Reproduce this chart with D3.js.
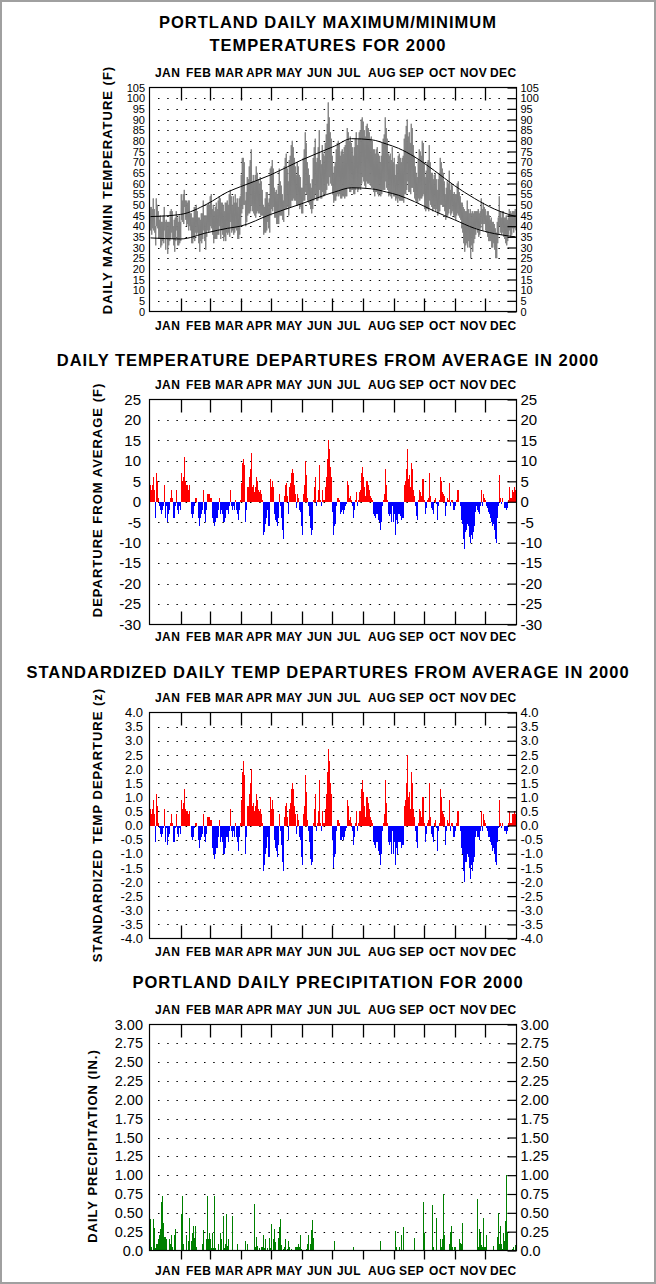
<!DOCTYPE html>
<html>
<head>
<meta charset="utf-8">
<script src="https://cdn.jsdelivr.net/npm/d3@7"></script>
<style>
body { margin: 0; background: #ffffff; }
</style>
</head>
<body>
<script>
var months = ["JAN", "FEB", "MAR", "APR", "MAY", "JUN", "JUL", "AUG", "SEP", "OCT", "NOV", "DEC"];
var monthDays = [31, 29, 31, 30, 31, 30, 31, 31, 30, 31, 30, 31];

// daily max / min temperature (F), one line per month
var maxTemp = [
  49,49,48,53,48,40,53,50,47,43,45,42,42,45,49,42,43,42,42,42,47,48,47,40,43,44,47,44,42,45,42,
  55,52,55,57,52,52,51,52,52,46,46,44,44,49,49,50,47,44,44,43,46,46,52,45,45,45,50,51,50,
  54,55,48,50,47,49,51,48,52,54,53,51,51,50,47,51,51,52,50,55,57,54,50,54,51,55,51,53,49,53,54,
  64,72,72,70,52,56,63,62,68,71,76,61,64,61,64,68,65,62,60,63,61,57,50,49,53,56,56,51,53,67,
  68,71,67,58,56,57,55,59,67,61,59,55,52,68,72,74,67,61,71,73,78,80,77,72,68,64,70,68,64,63,58,
  58,72,76,84,79,70,67,64,60,58,62,72,77,81,70,72,77,85,71,69,78,74,73,79,83,88,98,91,84,81,
  73,65,68,70,76,79,80,79,73,75,76,74,77,78,80,86,84,80,82,79,77,73,77,81,84,78,81,84,85,90,91,
  89,85,82,87,88,86,84,81,82,80,76,76,74,76,77,74,73,70,73,79,81,83,91,86,81,74,73,74,71,77,70,
  72,64,69,69,73,74,72,70,72,73,81,83,87,90,82,84,79,88,86,78,73,68,65,63,71,76,75,73,80,79,
  70,63,66,70,71,78,70,65,65,62,64,65,62,57,62,65,72,70,67,65,61,55,58,61,60,66,57,60,59,55,56,
  55,55,60,61,56,54,51,51,49,48,47,47,52,48,46,48,46,47,46,47,47,47,47,48,46,47,53,48,51,49,
  48,45,47,47,45,43,44,42,42,41,39,37,42,44,54,47,44,47,47,44,44,45,43,44,48,47,46,47,47,47,48
];
var minTemp = [
  38,36,39,38,37,31,40,39,34,34,30,31,33,32,38,29,34,27,31,33,34,37,34,31,28,33,38,31,31,32,33,
  43,42,41,49,43,40,41,38,40,38,32,32,34,33,37,36,37,32,28,33,32,34,38,33,29,35,38,37,38,
  40,39,36,32,34,34,34,36,36,40,34,38,36,33,35,33,37,36,37,35,42,37,38,36,37,39,38,34,34,36,40,
  46,48,50,50,40,42,45,46,46,47,50,47,46,45,44,46,47,46,46,45,45,45,36,37,37,38,42,39,37,45,
  48,47,49,44,44,41,41,41,45,45,45,43,42,48,48,48,49,45,49,49,52,52,53,52,52,50,50,50,48,49,46,
  46,52,52,56,55,52,51,50,48,46,48,52,53,55,52,52,53,57,53,53,56,54,55,55,57,60,59,63,60,59,
  55,51,52,52,54,55,54,55,53,53,54,54,53,54,54,58,58,56,56,57,57,55,55,57,58,56,57,58,57,60,63,
  61,59,58,61,60,60,60,59,58,58,56,54,56,56,55,54,55,54,55,57,57,57,61,58,57,54,55,54,53,55,54,
  54,52,53,51,53,52,52,52,52,51,55,55,57,61,56,56,55,58,58,56,53,52,51,51,53,52,53,53,54,55,
  48,47,48,48,47,52,50,49,47,48,48,47,48,45,46,47,50,50,49,49,47,43,44,45,46,48,45,46,47,45,44,
  43,45,46,45,44,43,39,37,32,28,31,32,30,33,30,25,31,28,32,34,36,39,37,35,36,39,41,38,41,41,
  38,37,35,33,33,33,30,30,32,29,25,25,32,36,40,37,36,37,35,34,32,31,33,36,38,35,36,39,37,39,38
];

// normal max / min read at these days of the year
var normalDay = [1, 31, 58, 78, 91, 121, 152, 185, 202, 222, 237, 249, 265, 285, 305, 325, 345, 366];
var normalMax = [44.5, 45.5, 50.5, 56, 58.5, 64, 71, 77.5, 81, 80.5, 78.5, 76.5, 72.5, 66, 59, 53, 48, 44.5];
var normalMin = [34.5, 34, 37, 39, 40, 45.5, 50.5, 56, 58, 57.5, 56, 54.5, 51.5, 47, 43, 39, 36.5, 35];

// daily departure from average (F)
var departure = [
  4,3,4,6,3,-4,7,5,1,-1,-2,-3,-2,-1,4,-4,-1,-5,-3,-2,1,3,1,-4,-4,-1,3,-2,-3,-1,-2,
  7,5,6,11,5,4,4,3,4,0,-3,-4,-3,-1,1,1,0,-4,-6,-4,-3,-2,3,-3,-5,-2,2,2,2,
  1,1,-4,-5,-6,-5,-4,-4,-2,1,-3,-2,-3,-5,-5,-4,-2,-2,-3,-1,3,-1,-2,-1,-2,0.5,-2,-3,-4.5,-2,0.5,
  4.5,9.5,10.5,9,-5,-2,3.5,3.5,6,8,12,3.5,4,2.5,3.5,6,5,3,2.5,3,2,0.5,-8,-7.5,-5.5,-4,-2,-6,-6,5.5,
  3.5,5,3.5,-3,-4.5,-5,-6,-4,2,-1,-4,-7,-9,1.5,4,4.5,1.5,-3,3.5,4.5,7,8,7,4,2,-1.5,2,1,-2,-2.5,-6,
  -8,2,4,10,6.5,1,-1,-3.5,-6.5,-8,-7,0.5,3.5,6,-1,0.5,3,9,0.5,-1,3,0.5,0.5,3.5,6,10.5,15,13,8.5,6,
  -2.5,-8,-6,-5.5,-1,1,1,0.5,-3,-2.5,-2,-3,-2,-1,-0.5,5,4,1,1.5,0.5,-1,-4,-2,0.5,2.5,-1,0.5,2.5,3,7,8.5,
  6,3.5,1.5,5,5,4,3,1.5,1,0.5,-3,-3.5,-4,-3,-3,-4.5,-5,-7,-5,-1,0.5,2,8,4,0.5,-3,-3.5,-3,-5,-1,-5,
  -3,-8,-4.5,-5.5,-3,-3,-3.5,-4.5,-4,-4,4,5,8,13,5.5,6.5,3.5,9.5,8,3,1.5,-1,-3.5,-4.5,0.5,3,2.5,1.5,5.5,5.5,
  0.5,-3,-1.5,0.5,1,7,1.5,-1.5,-2,-3,0.5,1,-0.5,-4.5,-1,0.5,6,5,2.5,2,1.5,-3.5,-1,1,0.5,4.5,-1,0.5,0.5,-2,-2,
  -1,0.5,3,3,0,-1,-4.5,-5.5,-9,-11.5,-7.5,-7,-5.5,-6,-8.5,-10,-8,-9,-7.5,-6,-2.5,-1,-2,-2.5,-3,-1,3,-1,2,1,
  0.5,-1,-1.5,-2.5,-3,-4,-5,-6,-5.5,-7,-9,-10,-4,-1,6.5,1,-0.5,1,0,-1.5,-1.5,-2,-1.5,0.5,3.5,1,1,3,2.5,3.5,3
];

// standardized daily departure (z)
var zDeparture = [
  0.6,0.4,0.6,0.9,0.4,-0.6,1.1,0.7,0.1,-0.1,-0.3,-0.4,-0.3,-0.1,0.6,-0.6,-0.1,-0.7,-0.4,-0.3,0.1,0.4,0.1,-0.6,-0.6,-0.1,0.4,-0.3,-0.4,-0.1,-0.3,
  0.9,0.6,0.8,1.3,0.6,0.5,0.5,0.4,0.5,0,-0.4,-0.5,-0.4,-0.1,0.1,0.1,0,-0.5,-0.8,-0.5,-0.4,-0.3,0.4,-0.4,-0.6,-0.3,0.3,0.3,0.3,
  0.2,0.2,-0.8,-1.0,-1.2,-1.0,-0.8,-0.8,-0.4,0.2,-0.6,-0.4,-0.6,-1.0,-1.0,-0.8,-0.4,-0.4,-0.6,-0.2,0.6,-0.2,-0.4,-0.2,-0.4,0.1,-0.4,-0.6,-0.9,-0.4,0.1,
  0.9,1.9,2.3,1.8,-1.0,-0.4,0.7,0.7,1.1,1.5,2.0,0.7,0.8,0.5,0.7,1.1,0.9,0.6,0.5,0.6,0.4,0.1,-1.6,-1.4,-1.0,-0.8,-0.4,-1.1,-1.1,1.0,
  0.6,0.9,0.6,-0.5,-0.8,-0.9,-1.1,-0.7,0.4,-0.2,-0.7,-1.3,-1.6,0.3,0.7,0.8,0.3,-0.5,0.6,0.8,1.3,1.5,1.3,0.7,0.4,-0.3,0.4,0.2,-0.4,-0.5,-1.1,
  -1.4,0.4,0.7,1.8,1.2,0.2,-0.2,-0.6,-1.2,-1.4,-1.3,0.1,0.6,1.1,-0.2,0.1,0.5,1.6,0.1,-0.2,0.5,0.1,0.1,0.6,1.1,1.9,2.7,2.3,1.5,1.1,
  -0.5,-1.5,-1.1,-1.0,-0.2,0.2,0.2,0.1,-0.5,-0.5,-0.4,-0.5,-0.4,-0.2,-0.1,0.9,0.7,0.2,0.3,0.1,-0.2,-0.7,-0.4,0.1,0.5,-0.2,0.1,0.5,0.5,1.3,1.6,
  1.2,0.7,0.3,1.0,1.0,0.8,0.6,0.3,0.2,0.1,-0.6,-0.7,-0.8,-0.6,-0.6,-0.9,-1.0,-1.4,-1.0,-0.2,0.1,0.4,1.6,0.8,0.1,-0.6,-0.7,-0.6,-1.0,-0.2,-1.0,
  -0.6,-1.4,-0.8,-1.0,-0.6,-0.6,-0.6,-0.8,-0.7,-0.7,0.7,0.9,1.5,2.5,1.0,1.2,0.6,1.9,1.5,0.6,0.3,-0.2,-0.6,-0.8,0.1,0.6,0.5,0.3,1.0,1.0,
  0.1,-0.6,-0.3,0.1,0.2,1.5,0.3,-0.3,-0.4,-0.6,0.1,0.2,-0.1,-0.9,-0.2,0.1,1.3,1.0,0.5,0.4,0.3,-0.7,-0.2,0.2,0.1,0.9,-0.2,0.1,0.1,-0.4,-0.4,
  -0.2,0.1,0.5,0.5,0,-0.2,-0.8,-1.0,-1.6,-2.0,-1.3,-1.3,-1.0,-1.1,-1.5,-1.9,-1.4,-1.6,-1.3,-1.1,-0.4,-0.2,-0.4,-0.4,-0.5,-0.2,0.5,-0.2,0.4,0.2,
  0.1,-0.1,-0.2,-0.4,-0.4,-0.6,-0.7,-0.9,-0.8,-1.0,-1.3,-1.4,-0.6,-0.1,0.9,0.1,-0.1,0.1,0,-0.2,-0.2,-0.3,-0.2,0.1,0.5,0.1,0.1,0.4,0.4,0.5,0.4
];

// daily precipitation (in.)
var precip = [
  .42,.04,0,.42,.30,.03,.09,.09,.15,.20,.28,.65,.72,.37,.18,.18,.15,0,0,.15,.09,.20,.04,0,.20,.28,.01,0,0,0,.01,
  .48,.73,.08,0,.01,.21,.01,.13,.43,0,.12,.23,.32,.16,.32,.04,0,0,0,0,.01,.09,.27,.01,0,.15,.73,.15,.23,
  .15,.03,.23,.03,.73,.03,.01,0,.09,0,.23,.15,0,.46,.03,.08,.48,.06,.15,.01,0,0,.46,.01,0,0,0,.08,.01,0,0,
  0,0,0,0,.13,0,.08,0,0,0,0,0,0,.62,.05,.18,.06,0,.03,0,.04,.04,.20,.03,.15,0,.03,0,.17,.03,
  .35,0,.15,.28,.11,0,0,.17,.31,.42,.07,0,.02,.04,.15,0,.02,.13,.04,0,.02,0,.01,0,.04,.05,.05,.09,.05,.21,.02,
  0,0,0,0,.02,.08,.21,0,.09,.27,.40,.16,0,.01,0,0,0,0,0,0,0,0,0,0,0,0,0,0,0,0,
  0,0,.12,.01,0,0,0,0,0,0,0,0,0,0,0,0,0,0,0,0,.01,.04,0,0,0,0,0,0,0,0,0,
  .01,0,0,0,0,0,0,0,0,.01,0,0,0,0,0,0,0,.12,.01,0,0,0,0,0,0,0,0,0,0,0,.01,
  0,.26,.04,.01,0,.04,0,.20,0,.31,0,0,0,0,0,0,0,0,.01,.01,.17,0,0,0,0,0,0,.01,.01,.65,
  .23,0,0,0,0,0,0,0,.61,.04,0,0,.43,0,.01,.01,.15,.04,.15,.75,.20,0,0,0,0,.09,.25,.32,.04,0,.04,
  .04,.01,0,0,.15,.10,.08,.36,.01,0,0,0,0,0,0,0,0,0,.01,0,0,0,.69,.04,.28,.23,.07,.04,.43,.04,
  .04,.20,0,0,0,0,0,.01,.06,.01,.01,0,.18,.50,.08,.32,.09,.02,.23,.13,.39,1.00,.25,.01,0,0,0,.02,.04,0,.07
];

var tempTicks = [0,5,10,15,20,25,30,35,40,45,50,55,60,65,70,75,80,85,90,95,100,105];
var departureTicks = [-30,-25,-20,-15,-10,-5,0,5,10,15,20,25];
var zTicks = [-4,-3.5,-3,-2.5,-2,-1.5,-1,-0.5,0,0.5,1,1.5,2,2.5,3,3.5,4];
var precipTicks = [0,0.25,0.5,0.75,1,1.25,1.5,1.75,2,2.25,2.5,2.75,3];

var width = 656;
var height = 1284;
var fontFamily = "'Liberation Sans', Arial, Helvetica, sans-serif";
var plotLeft = 150;
var plotRight = 516;

var svg = d3.select("body").append("svg")
  .attr("width", width)
  .attr("height", height)
  .attr("font-family", fontFamily);

svg.append("rect")
  .attr("x", 1).attr("y", 1)
  .attr("width", width - 2).attr("height", height - 2)
  .attr("fill", "#ffffff")
  .attr("stroke", "#a0a0a0")
  .attr("stroke-width", 2);

var x = d3.scaleLinear().domain([0, 366]).range([plotLeft, plotRight]);
var monthStarts = [0];
monthDays.forEach(function(n, i) { monthStarts.push(monthStarts[i] + n); });

var drawPanel = function(cfg) {
  var g = svg.append("g");
  var y = d3.scaleLinear().domain(cfg.domain).range([cfg.bottom, cfg.top]);

  cfg.title.forEach(function(line, i) {
    g.append("text")
      .attr("x", 328).attr("y", cfg.titleY + i * 23)
      .attr("text-anchor", "middle")
      .attr("font-weight", "bold")
      .attr("font-size", 16.5)
      .attr("letter-spacing", 1)
      .text(line);
  });

  // dotted grid
  g.selectAll("line.grid")
    .data(cfg.ticks.filter(function(t) { return t !== cfg.domain[0] && t !== cfg.domain[1]; }))
    .enter().append("line")
    .attr("x1", plotLeft + 8).attr("x2", plotRight - 4)
    .attr("y1", function(d) { return Math.round(y(d)) + 0.5; })
    .attr("y2", function(d) { return Math.round(y(d)) + 0.5; })
    .attr("stroke", "#000")
    .attr("stroke-width", 1)
    .attr("stroke-dasharray", "1.5,7.7");

  var marks = g.append("g");

  // left labels
  g.append("g")
    .attr("transform", "translate(" + (plotLeft - cfg.labelGap) + ",0)")
    .call(d3.axisLeft(y).tickValues(cfg.ticks).tickSize(0).tickPadding(0).tickFormat(cfg.format))
    .call(function(a) {
      a.select(".domain").remove();
      a.selectAll("text").attr("font-size", cfg.labelSize).attr("font-family", fontFamily).attr("fill", "#000");
    });

  // right labels with inward ticks
  g.append("g")
    .attr("transform", "translate(" + (plotRight + 0.5) + ",0)")
    .call(d3.axisRight(y).tickValues(cfg.ticks).tickSizeInner(-9).tickSizeOuter(0).tickPadding(4).tickFormat(cfg.format))
    .call(function(a) {
      a.select(".domain").remove();
      a.selectAll("line").attr("stroke", "#000").attr("stroke-width", 1.2);
      a.selectAll("text").attr("font-size", cfg.labelSize).attr("font-family", fontFamily).attr("fill", "#000");
    });

  // month boundary ticks
  g.append("g")
    .attr("transform", "translate(0," + cfg.top + ")")
    .call(d3.axisTop(x).tickValues(monthStarts.slice(1, 12)).tickSize(-13).tickFormat(""))
    .call(function(a) { a.select(".domain").remove(); a.selectAll("line").attr("stroke-width", 1.3); });
  g.append("g")
    .attr("transform", "translate(0," + cfg.bottom + ")")
    .call(d3.axisBottom(x).tickValues(monthStarts.slice(1, 12)).tickSize(cfg.bottomTicksOut ? 9 : -13).tickFormat(""))
    .call(function(a) { a.select(".domain").remove(); a.selectAll("line").attr("stroke-width", 1.3); });

  // month labels top and bottom
  [cfg.top - 11, cfg.bottom + cfg.bottomLabelGap].forEach(function(ly) {
    g.selectAll(null)
      .data(months)
      .enter().append("text")
      .attr("x", function(d, i) { return x(monthStarts[i]) + 5; })
      .attr("y", ly)
      .attr("font-weight", "bold")
      .attr("font-size", 12)
      .attr("letter-spacing", 0.4)
      .text(function(d) { return d; });
  });

  // y-axis title
  g.append("text")
    .attr("transform", "translate(" + cfg.yTitleX + "," + cfg.yTitleY + ") rotate(-90)")
    .attr("text-anchor", "middle")
    .attr("font-weight", "bold")
    .attr("font-size", 13)
    .attr("letter-spacing", 1)
    .text(cfg.yTitle);

  // frame
  g.append("rect")
    .attr("x", plotLeft - 0.5).attr("y", cfg.top)
    .attr("width", plotRight - plotLeft + 1).attr("height", cfg.bottom - cfg.top)
    .attr("fill", "none")
    .attr("stroke", "#000")
    .attr("stroke-width", 1.2);

  return { marks: marks, y: y };
};

var barPanel = function(cfg, values, posColor, negColor) {
  var p = drawPanel(cfg);
  p.marks.selectAll("rect")
    .data(values)
    .enter().append("rect")
    .attr("shape-rendering", "crispEdges")
    .attr("x", function(d, i) { return x(i); })
    .attr("width", 1)
    .attr("y", function(d) { return p.y(Math.max(0, d)); })
    .attr("height", function(d) { return Math.abs(p.y(d) - p.y(0)); })
    .attr("fill", function(d) { return d >= 0 ? posColor : negColor; });
};

// panel 1: max / min temperatures
var p1 = drawPanel({
  title: ["PORTLAND DAILY MAXIMUM/MINIMUM", "TEMPERATURES FOR 2000"], titleY: 28,
  top: 87.5, bottom: 311.5, domain: [0, 105], ticks: tempTicks,
  format: function(d) { return String(d); }, labelSize: 11, labelGap: 5,
  yTitle: "DAILY MAX/MIN TEMPERATURE (F)", yTitleX: 112, yTitleY: 190, bottomLabelGap: 18
});
var zigzag = [];
maxTemp.forEach(function(v, i) {
  zigzag.push([x(i) + 0.25, p1.y(v)]);
  zigzag.push([x(i) + 0.75, p1.y(minTemp[i])]);
});
p1.marks.append("path")
  .attr("d", d3.line()(zigzag))
  .attr("fill", "none")
  .attr("stroke", "#808080")
  .attr("stroke-width", 1);
[normalMax, normalMin].forEach(function(series) {
  p1.marks.append("path")
    .datum(series)
    .attr("fill", "none")
    .attr("stroke", "#000")
    .attr("stroke-width", 1)
    .attr("d", d3.line()
      .curve(d3.curveMonotoneX)
      .x(function(d, i) { return x(normalDay[i] - 0.5); })
      .y(function(d) { return p1.y(d); }));
});

// panel 2: departures
barPanel({
  title: ["DAILY TEMPERATURE DEPARTURES FROM AVERAGE IN 2000"], titleY: 366,
  top: 399.5, bottom: 624.5, domain: [-30, 25], ticks: departureTicks,
  format: function(d) { return String(d); }, labelSize: 15, labelGap: 9,
  yTitle: "DEPARTURE FROM AVERAGE (F)", yTitleX: 102, yTitleY: 500, bottomLabelGap: 16
}, departure, "#ff0000", "#0000ff");

// panel 3: standardized departures
barPanel({
  title: ["STANDARDIZED DAILY TEMP DEPARTURES FROM AVERAGE IN 2000"], titleY: 678,
  top: 712.5, bottom: 938.5, domain: [-4, 4], ticks: zTicks,
  format: function(d) { return d.toFixed(1); }, labelSize: 13, labelGap: 7,
  yTitle: "STANDARDIZED TEMP DEPARTURE (z)", yTitleX: 102, yTitleY: 825, bottomLabelGap: 17
}, zDeparture, "#ff0000", "#0000ff");

// panel 4: precipitation
barPanel({
  title: ["PORTLAND DAILY PRECIPITATION FOR 2000"], titleY: 988,
  top: 1024.5, bottom: 1250.5, domain: [0, 3], ticks: precipTicks,
  format: function(d) { return d === 0 ? "0.0" : d.toFixed(2); }, labelSize: 14.5, labelGap: 7,
  yTitle: "DAILY PRECIPITATION (IN.)", yTitleX: 97, yTitleY: 1146, bottomLabelGap: 24, bottomTicksOut: true
}, precip, "#008000", "#008000");
</script>
</body>
</html>
